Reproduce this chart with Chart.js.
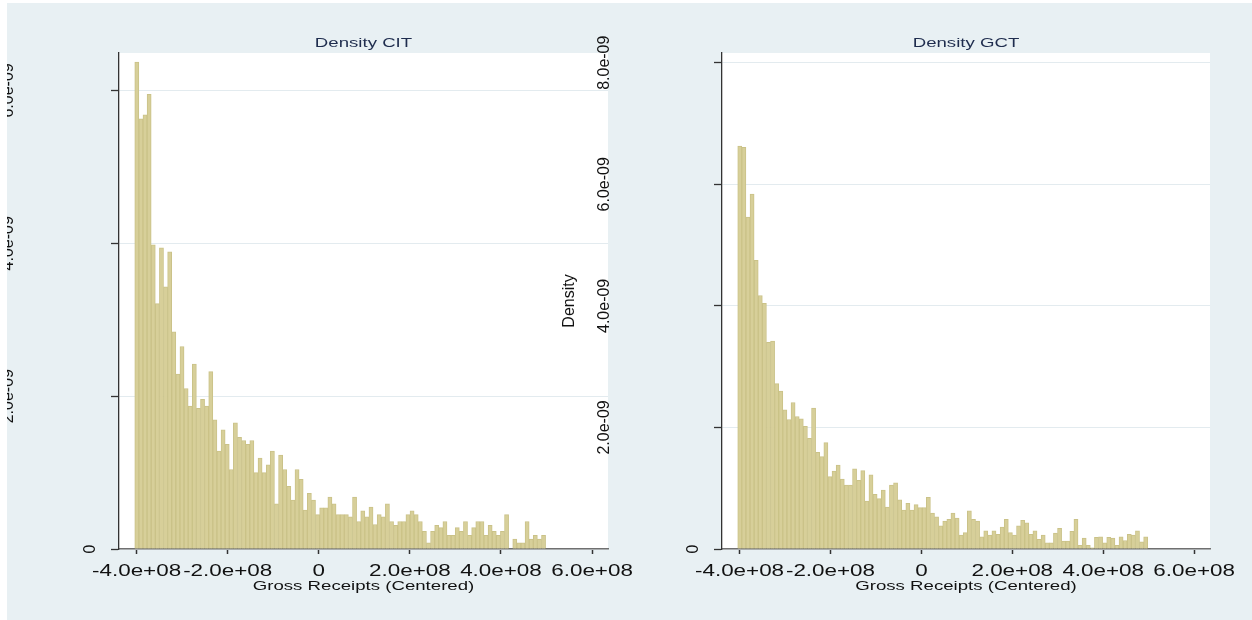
<!DOCTYPE html>
<html>
<head>
<meta charset="utf-8">
<script src="https://cdn.jsdelivr.net/npm/chart.js@4.4.1/dist/chart.umd.min.js"></script>
<style>
  html, body { margin: 0; padding: 0; background: #fff; }
  body { width: 1252px; height: 620px; position: relative; overflow: hidden; }
  #bg { position: absolute; left: 7px; top: 3px; right: 0; bottom: 0; background: #e8f0f3; }
  canvas { position: absolute; top: 0; }
  #cit { left: 7px; }
  #gct { left: 560px; }
</style>
</head>
<body>
<div id="bg"></div>
<canvas id="cit" width="660" height="620"></canvas>
<canvas id="gct" width="692" height="620"></canvas>
<script>
// histogram bins on gross receipts (centered)
const binStart = -4.04e8;
const binWidth = 9.02e6;

// bar heights, in units of 1e-9
const citDensity = [
  6.37, 5.63, 5.68, 5.95, 3.98, 3.21, 3.94, 3.43, 3.89, 2.84,
  2.29, 2.65, 2.10, 1.87, 2.42, 1.84, 1.96, 1.87, 2.32, 1.69,
  1.28, 1.56, 1.37, 1.04, 1.65, 1.46, 1.42, 1.37, 1.42, 1.00,
  1.19, 1.00, 1.10, 1.28, 0.59, 1.23, 1.04, 0.82, 0.64, 1.04,
  0.91, 0.51, 0.73, 0.64, 0.45, 0.54, 0.54, 0.68, 0.59, 0.45,
  0.45, 0.45, 0.42, 0.68, 0.36, 0.50, 0.42, 0.55, 0.32, 0.45,
  0.42, 0.59, 0.36, 0.31, 0.36, 0.36, 0.45, 0.50, 0.45, 0.36,
  0.23, 0.08, 0.23, 0.31, 0.28, 0.36, 0.18, 0.18, 0.28, 0.23,
  0.36, 0.18, 0.28, 0.36, 0.36, 0.18, 0.31, 0.23, 0.18, 0.23,
  0.45, 0.00, 0.13, 0.08, 0.08, 0.36, 0.13, 0.18, 0.13, 0.18
];
const gctDensity = [
  6.63, 6.61, 5.46, 5.84, 4.75, 4.17, 4.04, 3.40, 3.42, 2.72,
  2.60, 2.29, 2.13, 2.41, 2.18, 2.14, 2.02, 1.82, 2.32, 1.59,
  1.52, 1.75, 1.19, 1.28, 1.38, 1.15, 1.05, 1.05, 1.32, 1.13,
  1.29, 0.79, 1.22, 0.90, 0.83, 0.97, 0.69, 1.05, 1.09, 0.81,
  0.64, 0.75, 0.64, 0.73, 0.68, 0.68, 0.85, 0.59, 0.53, 0.38,
  0.46, 0.49, 0.59, 0.51, 0.23, 0.27, 0.63, 0.49, 0.46, 0.20,
  0.30, 0.23, 0.30, 0.24, 0.36, 0.49, 0.27, 0.23, 0.38, 0.47,
  0.43, 0.24, 0.30, 0.16, 0.23, 0.10, 0.10, 0.26, 0.34, 0.13,
  0.13, 0.29, 0.49, 0.06, 0.18, 0.06, 0.02, 0.19, 0.20, 0.10,
  0.19, 0.18, 0.06, 0.20, 0.14, 0.24, 0.23, 0.30, 0.12, 0.20
];

const xTicks = [-4e8, -2e8, 0, 2e8, 4e8, 6e8];
const citYTicks = [0, 2e-9, 4e-9, 6e-9];
const gctYTicks = [0, 2e-9, 4e-9, 6e-9, 8e-9];

const FONT = '"Liberation Sans", Arial, sans-serif';

// stata style labels: 0, 2.0e-09, -4.0e+08
const sci = v => v === 0 ? '0' : v.toExponential(1).replace(/e([+-])(\d)$/, 'e$10$2');

function wideText(ctx, text, x, y, sx) {
  ctx.save();
  ctx.translate(x, y);
  ctx.scale(sx, 1);
  ctx.fillText(text, 0, 0);
  ctx.restore();
}

function upText(ctx, text, x, y) {
  ctx.save();
  ctx.translate(x, y);
  ctx.rotate(-Math.PI / 2);
  ctx.fillText(text, 0, 0);
  ctx.restore();
}

const stataText = {
  id: 'stataText',
  beforeDraw(chart) {
    const {ctx, chartArea: a} = chart;
    ctx.save();
    ctx.fillStyle = '#fff';
    ctx.fillRect(a.left, a.top, a.right - a.left, a.bottom - a.top);
    ctx.restore();
  },
  afterDraw(chart, args, opts) {
    const {ctx, chartArea: a, scales: {x, y}} = chart;
    const mid = (a.left + a.right) / 2;
    ctx.save();
    ctx.textAlign = 'center';
    ctx.textBaseline = 'alphabetic';

    ctx.fillStyle = '#1f2d4e';
    ctx.font = `13.5px ${FONT}`;
    wideText(ctx, opts.title, mid, 47, 1.38);

    ctx.fillStyle = '#111';
    ctx.font = `16px ${FONT}`;
    x.ticks.forEach(t => wideText(ctx, sci(t.value), x.getPixelForValue(t.value), 576, 1.4));

    ctx.font = `13.5px ${FONT}`;
    wideText(ctx, 'Gross Receipts (Centered)', mid, 590, 1.38);

    ctx.font = `16px ${FONT}`;
    y.ticks.forEach(t => {
      const px = t.value === 0 ? a.left - 24 : a.left - opts.labelGap;
      upText(ctx, sci(t.value), px, y.getPixelForValue(t.value));
    });
    upText(ctx, 'Density', a.left - 148, (a.top + a.bottom) / 2);
    ctx.restore();
  }
};

function densityHistogram(id, title, density, yTicks, yMax, yWidth, rightPad, labelGap) {
  const ctx = document.getElementById(id).getContext('2d');
  return new Chart(ctx, {
    type: 'bar',
    data: {
      datasets: [{
        data: density.map((d, i) => ({x: binStart + (i + 0.5) * binWidth, y: d * 1e-9})),
        backgroundColor: '#d7cf99',
        borderColor: '#cac288',
        borderWidth: 1,
        barPercentage: 1,
        categoryPercentage: 1,
      }]
    },
    options: {
      responsive: false,
      animation: false,
      devicePixelRatio: 1,
      layout: {autoPadding: false, padding: {left: 0, top: 53, right: rightPad, bottom: 0}},
      plugins: {
        legend: {display: false},
        tooltip: {enabled: false},
        stataText: {title: title, labelGap: labelGap},
      },
      scales: {
        x: {
          type: 'linear',
          min: -4.386e8,
          max: 6.35e8,
          offset: false,
          afterBuildTicks: s => { s.ticks = xTicks.map(v => ({value: v})); },
          afterFit: s => { s.height = 71; },
          ticks: {display: false},
          grid: {offset: false, drawOnChartArea: false, tickLength: 5, tickColor: '#333', tickWidth: 1.5},
          border: {color: '#707070', width: 1.5},
        },
        y: {
          type: 'linear',
          min: 0,
          max: yMax,
          afterBuildTicks: s => { s.ticks = yTicks.map(v => ({value: v})); },
          afterFit: s => { s.width = yWidth; },
          ticks: {display: false},
          grid: {color: '#e3ebef', lineWidth: 1, tickLength: 8, tickColor: '#333', tickWidth: 1.3},
          border: {color: '#333', width: 1.3},
        },
      }
    },
    plugins: [stataText]
  });
}

densityHistogram('cit', 'Density CIT', citDensity, citYTicks, 6.49e-9, 112, 59, 106);
densityHistogram('gct', 'Density GCT', gctDensity, gctYTicks, 8.16e-9, 162, 42, 113);
</script>
</body>
</html>
